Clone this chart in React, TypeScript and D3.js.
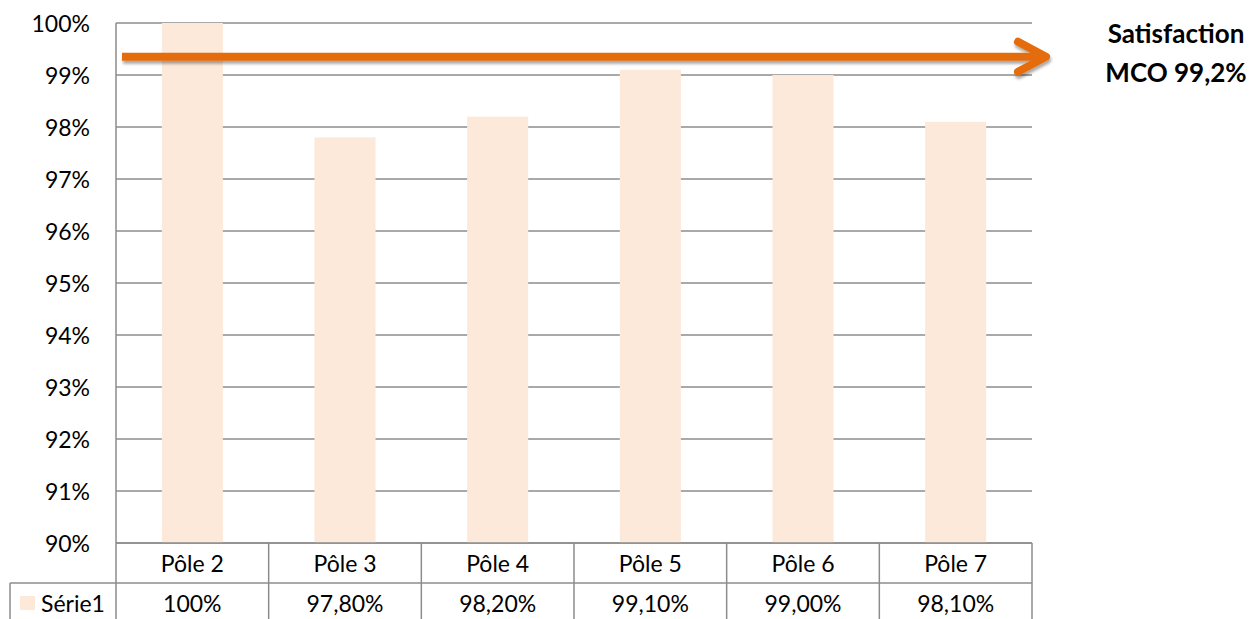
import React from "react";
import * as d3 from "d3";

const categories = ["Pôle 2", "Pôle 3", "Pôle 4", "Pôle 5", "Pôle 6", "Pôle 7"];
const values = [1.0, 0.978, 0.982, 0.991, 0.99, 0.981];
const valueLabels = ["100%", "97,80%", "98,20%", "99,10%", "99,00%", "98,10%"];
const yTicks = [0.9, 0.91, 0.92, 0.93, 0.94, 0.95, 0.96, 0.97, 0.98, 0.99, 1.0];
const seriesName = "Série1";
const arrowValue = 0.9935;
const annotation = ["Satisfaction", "MCO 99,2%"];

export default function App() {
  const W = 1254, H = 619;
  const left = 116, right = 1032, top = 23, bottom = 543;
  const x = d3.scaleBand<string>().domain(categories).range([left, right]).paddingInner(0.6).paddingOuter(0.3);
  const xb = d3.scaleBand<string>().domain(categories).range([left, right]);
  const y = d3.scaleLinear().domain([0.9, 1.0]).range([bottom, top]);
  const fmt = (v: number) => `${Math.round(v * 100)}%`;
  const font = "Lato, 'Open Sans', sans-serif";
  const grid = "#8c8c8c";
  const row1b = 583, row2b = 625;
  const ay = y(arrowValue);
  return (
    <svg width={W} height={H} style={{ position: "absolute", left: 0, top: 0, background: "#fff" }} fontFamily={font}>
      <defs>
        <filter id="sh" x="-5%" y="-50%" width="110%" height="200%">
          <feGaussianBlur in="SourceAlpha" stdDeviation="1.5" />
          <feOffset dx="1" dy="3" result="b" />
          <feComponentTransfer><feFuncA type="linear" slope="0.35" /></feComponentTransfer>
          <feMerge><feMergeNode /><feMergeNode in="SourceGraphic" /></feMerge>
        </filter>
      </defs>
      {yTicks.map((t) => (
        <g key={t}>
          <line x1={left} x2={right} y1={y(t)} y2={y(t)} stroke={grid} strokeWidth={1.5} />
          <text x={90} y={y(t) + 8.5} textAnchor="end" fontSize={23} fill="#000">{fmt(t)}</text>
        </g>
      ))}
      <line x1={left} x2={left} y1={top} y2={row2b} stroke={grid} strokeWidth={1.5} />
      {categories.map((c, i) => (
        <rect key={c} x={x(c)} width={x.bandwidth()} y={y(values[i])} height={bottom - y(values[i])} fill="#fce9da" />
      ))}
      {/* table */}
      <line x1={left} x2={right} y1={bottom} y2={bottom} stroke={grid} strokeWidth={1.5} />
      <line x1={10} x2={right} y1={row1b} y2={row1b} stroke={grid} strokeWidth={1.5} />
      <line x1={10} x2={10} y1={row1b} y2={row2b} stroke={grid} strokeWidth={1.5} />
      {categories.map((c, i) => (
        <g key={"t" + c}>
          <line x1={xb(c)! + xb.bandwidth()} x2={xb(c)! + xb.bandwidth()} y1={bottom} y2={row2b} stroke={grid} strokeWidth={1.5} />
          <text x={xb(c)! + xb.bandwidth() / 2} y={572} textAnchor="middle" fontSize={23}>{c}</text>
          <text x={xb(c)! + xb.bandwidth() / 2} y={612} textAnchor="middle" fontSize={23}>{valueLabels[i]}</text>
        </g>
      ))}
      <rect x={20} y={596} width={15} height={14} fill="#fce9da" />
      <text x={41} y={612} fontSize={23}>{seriesName}</text>
      {/* arrow */}
      <g filter="url(#sh)" stroke="#e46c0a" strokeWidth={8} fill="none">
        <line x1={122} x2={1044} y1={ay} y2={ay} />
        <polyline points={`${1018},${ay - 15} ${1046},${ay} ${1018},${ay + 15}`} strokeLinecap="round" strokeLinejoin="round" />
      </g>
      <text x={1176} y={43} textAnchor="middle" fontSize={26} fontWeight="bold">{annotation[0]}</text>
      <text x={1176} y={82} textAnchor="middle" fontSize={26} fontWeight="bold">{annotation[1]}</text>
    </svg>
  );
}
